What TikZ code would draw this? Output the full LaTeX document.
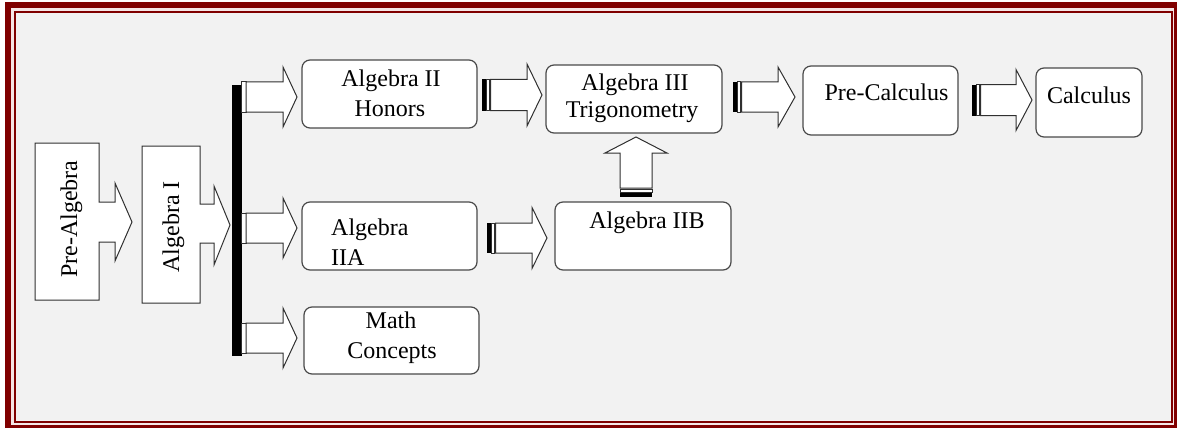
\documentclass[tikz,border=0pt]{standalone}
\usepackage{fontspec}
\setmainfont{Liberation Serif}
\definecolor{frame}{HTML}{800000}
\definecolor{gapc}{HTML}{F6E6E6}
\definecolor{bg}{HTML}{F2F2F2}
\definecolor{boxline}{HTML}{4A4A4A}
\definecolor{arrline}{HTML}{303030}
\tikzset{
  box/.style={draw=boxline, fill=white, rounded corners=8pt, line width=1.2pt, inner sep=0pt},
  arr/.style={draw=arrline, fill=white, line width=1pt, line join=miter},
  lbl/.style={font=\fontsize{24}{30}\selectfont, inner sep=0pt, anchor=base, text=black},
}
% striped right arrow: #1 tail x, #2 head start x, #3 tip x, #4 centre y, #5 shaft half, #6 head half
\newcommand\stripedarrow[6]{%
  \fill[black] (#1,#4-#5) rectangle (#1+3.5,#4+#5);
  \draw[arr] (#1+4.5,#4-#5) rectangle (#1+7,#4+#5);
  \draw[arr] (#1+8.5,#4-#5) -- (#2,#4-#5) -- (#2,#4-#6) -- (#3,#4) -- (#2,#4+#6)
     -- (#2,#4+#5) -- (#1+8.5,#4+#5) -- cycle;
}
% arrows leaving the black bar: #1 centre y
\newcommand\fanarrow[1]{%
  \draw[arr] (241.5,#1-15) rectangle (246,#1+15);
  \draw[arr] (246,#1-15) -- (283,#1-15) -- (283,#1-30) -- (297,#1) -- (283,#1+30)
     -- (283,#1+15) -- (246,#1+15) -- cycle;
}
\begin{document}
\begin{tikzpicture}[x=1pt,y=-1pt]
\useasboundingbox (0,0) rectangle (1178,428);
% frame
\fill[white] (0,0) rectangle (1178,428);
\fill[frame] (5,2) rectangle (1176.5,427.5);
\fill[gapc] (11,8) rectangle (1173.5,425);
\fill[frame] (14,11) rectangle (1172.5,423);
\fill[bg] (16,13) rectangle (1170.5,421);

% Pre-Algebra callout
\draw[arr] (35,143) -- (99,143) -- (99,202) -- (115,202) -- (115,183) -- (132,222)
  -- (115,261) -- (115,242) -- (99,242) -- (99,300) -- (35,300) -- cycle;
\node[lbl, rotate=90] (prealg) at (77,219) {Pre-Algebra};

% Algebra I callout
\draw[arr] (142,146) -- (200,146) -- (200,204) -- (214,204) -- (214,186) -- (230,225)
  -- (214,265) -- (214,243) -- (200,243) -- (200,303) -- (142,303) -- cycle;
\node[lbl, rotate=90] (alg1) at (179,227) {Algebra I};

% black bar and fan-out arrows
\fill[black] (232,85) rectangle (241.5,356);
\fanarrow{97}
\fanarrow{228}
\fanarrow{338}

% boxes
\node[box, minimum width=175pt, minimum height=68pt] (hon)  at (389.5,94) {};
\node[box, minimum width=176pt, minimum height=68pt] (trig) at (634,99) {};
\node[box, minimum width=155pt, minimum height=69pt] (pc)   at (880.5,100.5) {};
\node[box, minimum width=106pt, minimum height=69pt] (calc) at (1089,102.5) {};
\node[box, minimum width=175pt, minimum height=68pt] (iia)  at (389.5,236) {};
\node[box, minimum width=176pt, minimum height=68pt] (iib)  at (643,236) {};
\node[box, minimum width=175pt, minimum height=67pt] (math) at (391.5,340.5) {};

% labels
\node[lbl] (honA) at (391,86) {Algebra II};
\node[lbl] (honB) at (390,116) {Honors};
\node[lbl] (trigA) at (635,90) {Algebra III};
\node[lbl] (trigB) at (632,117) {Trigonometry};
\node[lbl] (pcA) at (886.5,100) {Pre-Calculus};
\node[lbl] (calcA) at (1089,103) {Calculus};
\node[lbl, anchor=base west] (iiaA) at (331,235) {Algebra};
\node[lbl, anchor=base west] (iiaB) at (331,265) {IIA};
\node[lbl] (iibA) at (647,228) {Algebra IIB};
\node[lbl] (mathA) at (391,328) {Math};
\node[lbl] (mathB) at (392,358) {Concepts};

% striped arrows between boxes
\stripedarrow{482}{527}{542}{95}{15.5}{31}
\stripedarrow{487}{532}{547}{238}{15}{30.5}
\stripedarrow{733}{778}{795}{97}{15}{30}
\stripedarrow{972}{1016}{1032}{100}{15.5}{30.5}

% up arrow from Algebra IIB to Algebra III
\draw[arr] (620,188) -- (620,153) -- (605,153) -- (636,137) -- (667,153) -- (652,153)
  -- (652,188) -- cycle;
\draw[arr] (620,189) rectangle (652,192);
\fill[black] (620,193) rectangle (652,197);
\end{tikzpicture}
\end{document}
